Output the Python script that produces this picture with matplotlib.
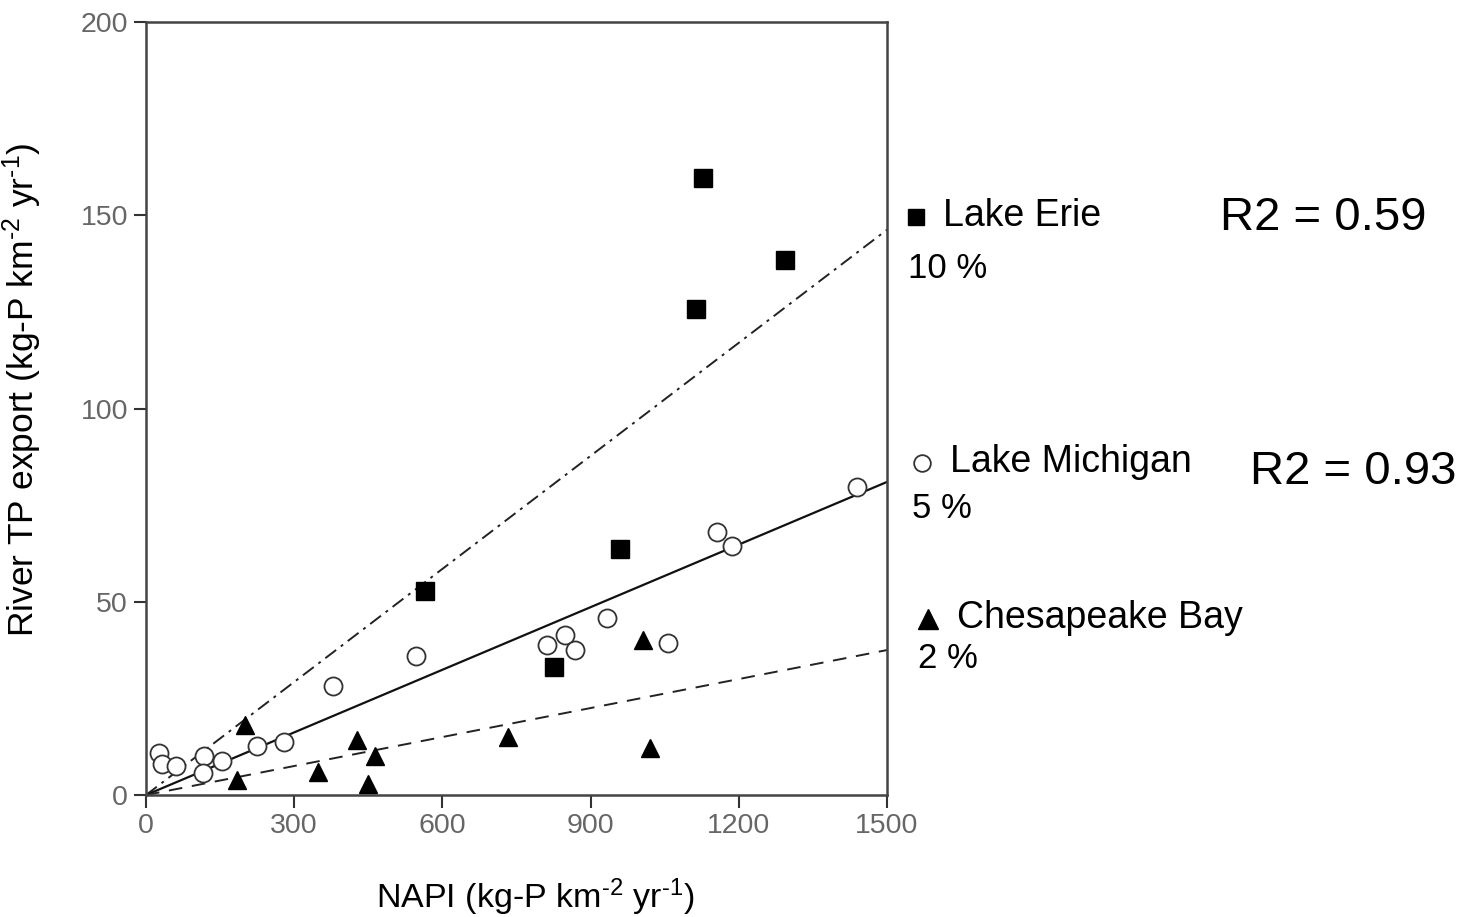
import matplotlib
matplotlib.use("Agg")
import matplotlib.pyplot as plt
import numpy as np

plt.rcParams['font.family'] = ['Liberation Sans', 'DejaVu Sans']
plt.rcParams['mathtext.fontset'] = 'custom'
plt.rcParams['mathtext.rm'] = 'Liberation Sans'
plt.rcParams['mathtext.it'] = 'Liberation Sans'

# data
erie_x = [1127, 1293, 1113, 565, 960, 826]
erie_y = [159.6, 138.4, 125.7, 52.8, 63.6, 33.1]

michigan_x = [1439, 1156, 1186, 933, 1057, 812, 848, 868, 547, 379,
              26, 32, 61, 117, 115, 154, 225, 279]
michigan_y = [79.7, 68.0, 64.4, 45.8, 39.3, 38.8, 41.4, 37.5, 36.0, 28.2,
              10.9, 8.0, 7.5, 10.1, 5.7, 8.8, 12.7, 13.7]

chesapeake_x = [200, 184, 348, 427, 464, 449, 733, 1020, 1006]
chesapeake_y = [18.1, 3.9, 6.0, 14.2, 10.1, 2.8, 15.0, 12.2, 40.1]

# fitted slopes (export fraction of NAPI)
erie_slope = 0.0975
michigan_slope = 0.054
chesapeake_slope = 0.025

labels = ["Lake Erie", "Lake Michigan", "Chesapeake Bay"]
percents = ["10 %", "5 %", "2 %"]
r2_values = ["R2 = 0.59", "R2 = 0.93"]

x_ticks = [0, 300, 600, 900, 1200, 1500]
y_ticks = [0, 50, 100, 150, 200]

W, H = 1476, 917
fig = plt.figure(figsize=(W / 100, H / 100), dpi=100)
ax = fig.add_axes([146 / W, 1 - 795 / H, (887 - 146) / W, (795 - 22) / H])

fit_x = np.array([0, 1500])
ax.plot(fit_x, erie_slope * fit_x, color='#222222', lw=1.4,
        ls=(0, (7, 3, 1.5, 3)))
ax.plot(fit_x, michigan_slope * fit_x, color='#111111', lw=1.6, ls='-')
ax.plot(fit_x, chesapeake_slope * fit_x, color='#222222', lw=1.4,
        ls=(0, (7, 5)))

ax.plot(erie_x, erie_y, 's', color='black', ms=13, mec='black', zorder=3)
ax.plot(michigan_x, michigan_y, 'o', mfc='white', mec='#333333', ms=13,
        mew=1.3, zorder=3)
ax.plot(chesapeake_x, chesapeake_y, '^', color='black', ms=13, zorder=3)

ax.set_xlim(0, 1500)
ax.set_ylim(0, 200)
ax.set_xticks(x_ticks)
ax.set_yticks(y_ticks)
ax.tick_params(direction='out', length=9, width=1.5, colors='#333333',
               labelsize=20.5, labelcolor='#666666', pad=4)
for side in ['left', 'bottom', 'right', 'top']:
    ax.spines[side].set_color('#444444')
    ax.spines[side].set_linewidth(1.8)

ax.set_xlabel(r'NAPI (kg-P km$^{\text{-2}}$ yr$^{\text{-1}}$)', fontsize=24.5)
ax.set_ylabel(r'River TP export (kg-P km$^{\text{-2}}$ yr$^{\text{-1}}$)',
              fontsize=25.5)
ax.xaxis.set_label_coords(0.525, -0.105)
ax.yaxis.set_label_coords(-0.137, 0.524)

# hand-made legend to the right of the axes
def fx(px):
    return px / W

def fy(py):
    return 1 - py / H

legend_markers = ['s', 'o', '^']
marker_pos = [(916, 217), (922, 463), (928, 619)]
label_pos = [(943, 216), (950, 462), (957, 618)]
pct_pos = [(908, 268), (912, 508), (918, 658)]
for mk, (mx, my), lab, (lx, ly), pct, (ptx, pty) in zip(
        legend_markers, marker_pos, labels, label_pos, percents, pct_pos):
    if mk == 'o':
        fig.add_artist(plt.Line2D([fx(mx)], [fy(my)], marker=mk, mfc='white',
                                  mec='#333333', ms=12, mew=1.3,
                                  transform=fig.transFigure))
    else:
        fig.add_artist(plt.Line2D([fx(mx)], [fy(my)], marker=mk, color='black',
                                  ms=12 if mk == 's' else 14,
                                  transform=fig.transFigure))
    fig.text(fx(lx), fy(ly), lab, fontsize=27, ha='left', va='center')
    fig.text(fx(ptx), fy(pty), pct, fontsize=25, ha='left', va='center')

r2_pos = [(1220, 218), (1250, 472)]
for txt, (rx, ry) in zip(r2_values, r2_pos):
    fig.text(fx(rx), fy(ry), txt, fontsize=34, ha='left', va='center')

fig.savefig('out.png', dpi=100)
